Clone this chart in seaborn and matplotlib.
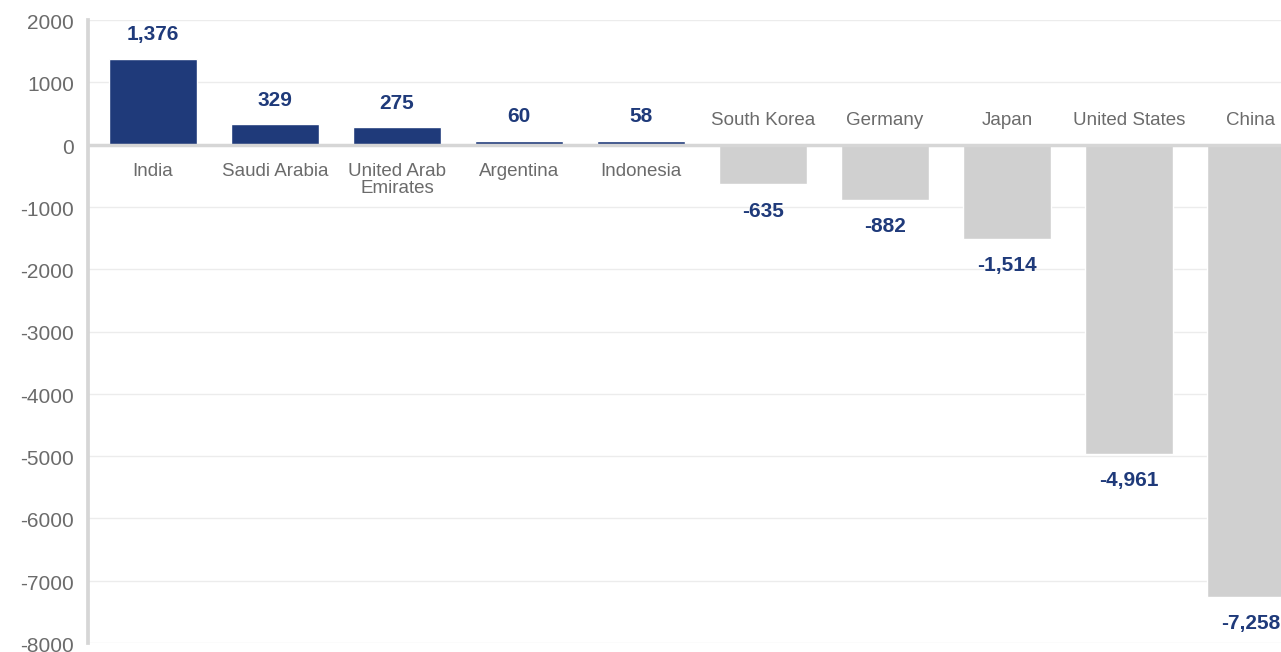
import matplotlib
matplotlib.use("Agg")
import matplotlib.pyplot as plt
import matplotlib.transforms as mtransforms
import seaborn as sns
import pandas as pd

countries = ["India", "Saudi Arabia", "United Arab\nEmirates", "Argentina", "Indonesia",
             "South Korea", "Germany", "Japan", "United States", "China"]
values = [1376, 329, 275, 60, 58, -635, -882, -1514, -4961, -7258]
y_ticks = [2000, 1000, 0, -1000, -2000, -3000, -4000, -5000, -6000, -7000, -8000]

NAVY = "#1f3a7a"
GREY_BAR = "#d0d0d0"
TEXT_GREY = "#6b6b6b"

sns.set_theme(style="white")
plt.rcParams["font.family"] = ["Liberation Sans", "DejaVu Sans"]

df = pd.DataFrame({
    "country": countries,
    "value": values,
    "sign": ["pos" if v >= 0 else "neg" for v in values],
})

fig = plt.figure(figsize=(12.81, 6.52), dpi=100)
ax = fig.add_axes([88 / 1281, 9 / 652, 1228 / 1281, 623 / 652])

sns.barplot(data=df, x="country", y="value", hue="sign",
            palette={"pos": NAVY, "neg": GREY_BAR}, dodge=False,
            width=0.72, saturation=1, legend=False, ax=ax, zorder=2)

ax.set_ylim(-8000, 2000)
ax.set_xlim(-0.533, len(countries) - 1 + 0.533)
ax.set_yticks(y_ticks)
ax.set_yticklabels([str(t) for t in y_ticks], fontsize=15, color=TEXT_GREY)
ax.tick_params(axis="y", length=0, pad=10)
shift = mtransforms.ScaledTranslation(0, -1.5 / 100, fig.dpi_scale_trans)
for lbl in ax.get_yticklabels():
    lbl.set_transform(lbl.get_transform() + shift)
ax.set_xticks([])
ax.set_xlabel("")
ax.set_ylabel("")

for t in y_ticks:
    ax.axhline(t, color="#ececec", lw=1, zorder=0)
ax.axhline(0, color="#d6d6d6", lw=2.5, zorder=3)

for side in ["top", "right", "bottom"]:
    ax.spines[side].set_visible(False)
ax.spines["left"].set_color("#d6d6d6")
ax.spines["left"].set_linewidth(2.7)

for i, (name, v) in enumerate(zip(countries, values)):
    # value labels outside the bar end, country names on the other side of zero
    if v >= 0:
        ax.annotate(f"{v:,}", (i, v), xytext=(0, 10.5), textcoords="offset points",
                    ha="center", va="bottom", fontsize=15, fontweight="bold",
                    color=NAVY, zorder=4)
        ax.annotate(name, (i, 0), xytext=(0, -13), textcoords="offset points",
                    ha="center", va="top", fontsize=13.5, color=TEXT_GREY,
                    linespacing=1.0, zorder=4)
    else:
        ax.annotate(f"{v:,}", (i, v), xytext=(0, -12.5), textcoords="offset points",
                    ha="center", va="top", fontsize=15, fontweight="bold",
                    color=NAVY, zorder=4)
        ax.annotate(name, (i, 0), xytext=(0, 14), textcoords="offset points",
                    ha="center", va="baseline", fontsize=13.5, color=TEXT_GREY,
                    zorder=4)

fig.savefig("out.png", dpi=100)
